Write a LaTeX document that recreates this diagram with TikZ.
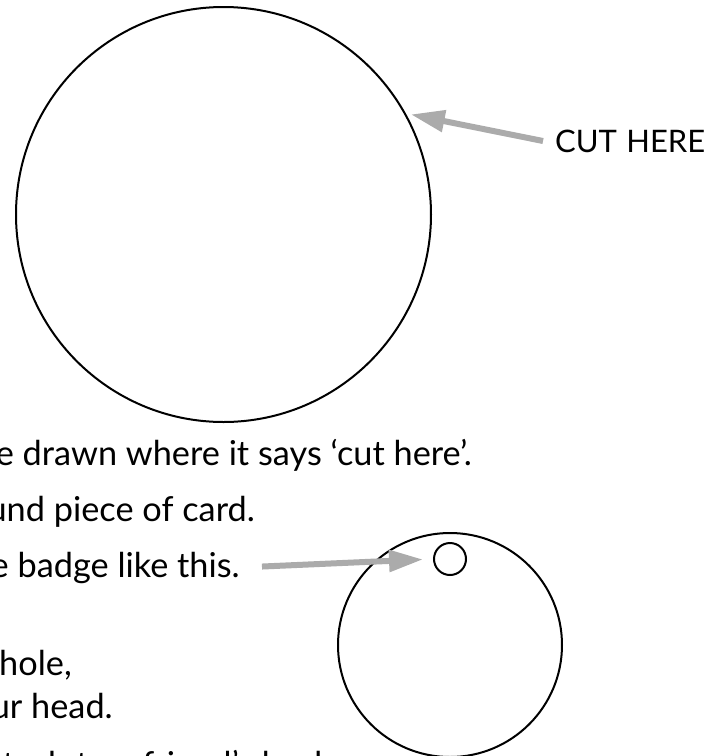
\documentclass[tikz,border=0pt]{standalone}
\usepackage{fontspec}
\setmainfont{Lato}
\usetikzlibrary{positioning, arrows.meta}
\tikzset{
    cutline/.style={circle, draw=black, line width=2pt, inner sep=0pt},
    pointer/.style={-{Triangle[length=34pt, width=21pt]}, line width=6pt, black!33},
    words/.style={inner sep=0pt, anchor=base east, font=\fontsize{34.3}{41}\selectfont},
    caption/.style={inner sep=0pt, inner xsep=12pt, anchor=west, font=\fontsize{31}{36}\selectfont}
}
\begin{document}
\begin{tikzpicture}[x=1pt, y=-1pt]
    \clip (0,0) rectangle (709,756);

    % 1. the big circle to cut out
    \node[cutline, minimum size=415pt] (big) at (223.5,214.5) {};
    \node[caption] (cut) at (543,141) {CUT\hspace{0.3em}HERE};
    \draw[pointer, shorten >=5pt] (cut.west) -- (big.29);

    % 2. the steps (cut off at the left edge)
    \node[words] (step1) at (472,465) {e drawn where it says ‘cut here’.};
    \node[words] (step2) at (255,521) {und piece of card.};
    \node[words] (step3) at (240,577) {e badge like this.};
    \node[words] (step4) at (72,675) {hole,};
    \node[words] (step5) at (113,718) {ur head.};
    \node[words] (step6) at (332,776) {Attach to a friend’s back};

    % 3. the finished badge with its hole
    \node[cutline, minimum size=224pt] (badge) at (450,645) {};
    \node[cutline, minimum size=32pt, below=10pt of badge.north] (hole) {};
    \draw[pointer, shorten <=22pt, shorten >=10pt] (step3.east) -- (hole.west);
\end{tikzpicture}
\end{document}
